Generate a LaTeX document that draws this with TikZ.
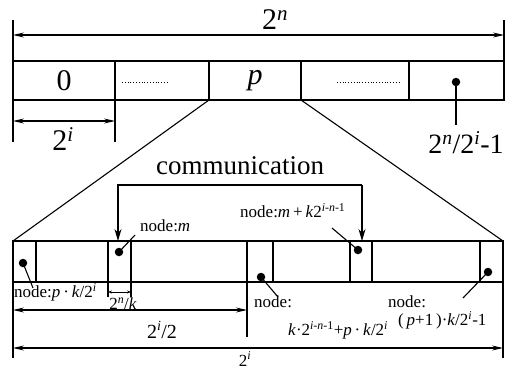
\documentclass[tikz,border=0pt]{standalone}
\usepackage{fontspec}
\setmainfont{Liberation Serif}
\usetikzlibrary{arrows.meta}
\newcommand\vv[1]{\textit{#1}}
\newcommand\sps[1]{\textsuperscript{#1}}
\begin{document}
\begin{tikzpicture}[x=1pt,y=-1pt,
  ln/.style={line width=1.1pt},
  dim/.style={line width=1.1pt,{Stealth[length=11pt,width=5pt]}-{Stealth[length=11pt,width=5pt]}},
  sdim/.style={line width=0.7pt,{Stealth[length=4pt,width=3pt]}-{Stealth[length=4pt,width=3pt]}},
  comm/.style={line width=1.1pt,-{Stealth[length=12pt,width=7pt]}},
  dotn/.style={circle,fill,inner sep=0pt,minimum size=8.5pt},
  big/.style={font=\fontsize{30}{32}\selectfont,inner sep=0pt},
  mid/.style={font=\fontsize{20}{22}\selectfont,inner sep=0pt},
  lab/.style={font=\fontsize{17}{19}\selectfont,inner sep=0pt}
]
\useasboundingbox (0,0) rectangle (518,370);
% top row
\draw[ln] (13,61) rectangle (504,100);
\foreach \x in {115,209,301,409} \draw[ln] (\x,61) -- (\x,100);
\draw[ln] (13,20) -- (13,61);
\draw[ln] (504,20) -- (504,61);
\coordinate (tl) at (13,35); \coordinate (tr) at (504,35);
\draw[dim] (tl) -- (tr);
\node[big] (n2n) at (275,20) {2\sps{\vv{n}}};
\node[big] (z) at (64,81) {0};
\node[big] (p) at (255,81) {\vv{p}};
\draw[line width=0.8pt,dotted] (122,82) -- (167,82);
\draw[line width=0.8pt,dotted] (337,82) -- (400,82);
\node[dotn] (dlast) at (456,82) {};
\coordinate (dlastend) at (456,125);
\draw[ln] (dlast.center) -- (dlastend);
\node[big,font=\fontsize{28}{30}\selectfont] (lastlab) at (466,143) {2\sps{\vv{n}}/2\sps{\vv{i}}-1};
% 2^i under first cell
\draw[ln] (13,100) -- (13,142);
\draw[ln] (115,100) -- (115,142);
\coordinate (al) at (13,121); \coordinate (ar) at (115,121);
\draw[dim] (al) -- (ar);
\node[big] (twoi) at (63,139) {2\sps{\vv{i}}};
% trapezoid
\draw[ln] (209,100) -- (13,241);
\draw[ln] (301,100) -- (503,241);
% bottom row
\draw[ln] (13,241) rectangle (503,282);
\foreach \x in {36,273,350,372,480} \draw[ln] (\x,241) -- (\x,282);
\draw[ln] (108,241) -- (108,297);
\draw[ln] (131,241) -- (131,297);
\draw[ln] (247,241) -- (247,337);
\draw[ln] (13,282) -- (13,358);
\draw[ln] (503,282) -- (503,358);
% communication
\node[font=\fontsize{27}{29}\selectfont,inner sep=0pt] (comm) at (240,166) {communication};
\coordinate (c1) at (118,185); \coordinate (c2) at (362,185);
\coordinate (c1e) at (118,241); \coordinate (c2e) at (362,241);
\draw[comm] (c2) -- (c1) -- (c1e);
\draw[comm] (c2) -- (c2e);
% dims bottom
\coordinate (k1) at (108,292); \coordinate (k2) at (131,292);
\draw[sdim] (k1) -- (k2);
\node[lab] (nk) at (123,304) {2\sps{\vv{n}}/\vv{k}};
\coordinate (h1) at (13,310); \coordinate (h2) at (247,310);
\draw[dim] (h1) -- (h2);
\node[mid] (half) at (162,330) {2\sps{\vv{i}}/2};
\coordinate (f1) at (13,348); \coordinate (f2) at (503,348);
\draw[dim] (f1) -- (f2);
\node[lab] (full) at (245,359) {2\sps{\vv{i}}};
% dots and labels
\node[dotn] (d1) at (23,263) {};
\coordinate (d1e) at (33,288);
\draw[ln] (d1.center) -- (d1e);
\node[lab,anchor=west] (l1) at (14,292) {node:\vv{p}\,·\,\vv{k}/2\sps{\vv{i}}};
\node[dotn] (dm) at (119,252) {};
\coordinate (dme) at (135,235);
\draw[ln] (dm.center) -- (dme);
\node[lab,anchor=west] (lm) at (140,226) {node:\vv{m}};
\node[dotn] (dmk) at (358,250) {};
\coordinate (dmke) at (332,228);
\draw[ln] (dmk.center) -- (dmke);
\node[lab,anchor=west] (lmk) at (240,211) {node:\vv{m}\,+\,\vv{k}2\sps{\vv{i}-\vv{n}-1}};
\node[dotn] (dh) at (261,277) {};
\coordinate (dhe) at (278,297);
\draw[ln] (dh.center) -- (dhe);
\node[lab,anchor=west] (lh1) at (254,302) {node:};
\node[lab,anchor=west] (lh2) at (288,330) {\vv{k}·2\sps{\vv{i}-\vv{n}-1}+\vv{p}\,·\,\vv{k}/2\sps{\vv{i}}};
\node[dotn] (dr) at (488,272) {};
\coordinate (dre) at (463,298);
\draw[ln] (dr.center) -- (dre);
\node[lab,anchor=west] (lr1) at (388,302) {node:};
\node[lab,anchor=west] (lr2) at (398,320) {(\,\vv{p}+1\,)·\vv{k}/2\sps{\vv{i}}-1};
\end{tikzpicture}
\end{document}
